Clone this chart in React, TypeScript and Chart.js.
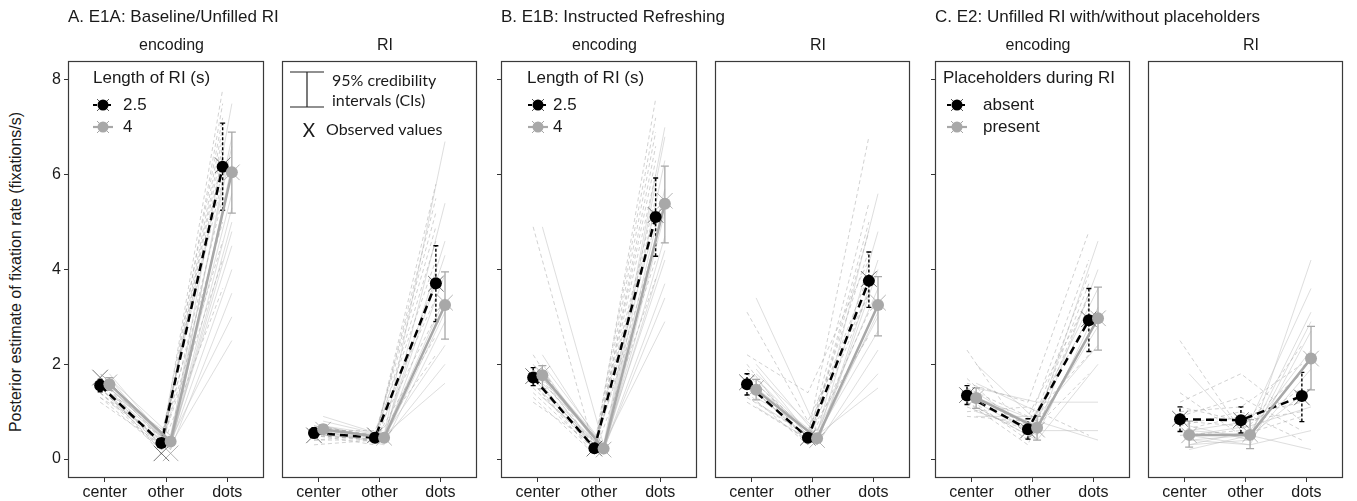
import React, { useEffect, useRef } from "react";
import { Chart, registerables } from "chart.js";
Chart.register(...registerables);

const CATEGORIES = ["center", "other", "dots"];
const Y_TICKS = [0, 2, 4, 6, 8];
const Y_TITLE = "Posterior estimate of fixation rate (fixations/s)";
const GROUP_TITLES = ["A. E1A: Baseline/Unfilled RI", "B. E1B: Instructed Refreshing", "C. E2: Unfilled RI with/without placeholders"];
const STRIPS = ["encoding", "RI", "encoding", "RI", "encoding", "RI"];
const LEGEND_E1 = ["2.5", "4"];
const LEGEND_E2 = ["absent", "present"];

// ---------- A. E1A encoding ----------
const A_ENC_MEAN_1 = [1.55, 0.34, 6.17];
const A_ENC_LO_1 = [1.42, 0.27, 5.25];
const A_ENC_HI_1 = [1.68, 0.42, 7.09];
const A_ENC_OBS_1 = [1.72, 0.12, 6.2];
const A_ENC_MEAN_2 = [1.58, 0.37, 6.05];
const A_ENC_LO_2 = [1.45, 0.3, 5.19];
const A_ENC_HI_2 = [1.72, 0.45, 6.9];
const A_ENC_OBS_2 = [1.62, 0.12, 6.05];
const A_ENC_SUBJ_1 = [[1.6, 0.3, 7.8], [1.5, 0.4, 7.2], [1.4, 0.2, 6.8], [1.7, 0.3, 6.4], [1.3, 0.5, 5.9], [1.5, 0.2, 5.5], [1.8, 0.4, 5.0], [1.2, 0.3, 4.6], [1.6, 0.1, 7.5], [1.4, 0.4, 6.1], [1.5, 0.3, 4.2], [1.3, 0.2, 3.6], [1.7, 0.2, 7.0], [1.4, 0.3, 6.6]];
const A_ENC_SUBJ_2 = [[1.6, 0.4, 7.5], [1.5, 0.3, 6.8], [1.7, 0.2, 6.2], [1.4, 0.5, 5.6], [1.6, 0.3, 5.0], [1.5, 0.4, 4.5], [1.8, 0.3, 4.0], [1.3, 0.2, 3.5], [1.5, 0.4, 3.0], [1.6, 0.3, 2.5], [1.4, 0.3, 5.3], [1.7, 0.5, 6.6], [1.5, 0.3, 4.8]];

// ---------- A. E1A RI ----------
const A_RI_MEAN_1 = [0.55, 0.45, 3.71];
const A_RI_LO_1 = [0.45, 0.4, 2.9];
const A_RI_HI_1 = [0.66, 0.51, 4.5];
const A_RI_OBS_1 = [0.5, 0.5, 3.7];
const A_RI_MEAN_2 = [0.63, 0.45, 3.25];
const A_RI_LO_2 = [0.55, 0.4, 2.53];
const A_RI_HI_2 = [0.72, 0.5, 3.95];
const A_RI_OBS_2 = [0.62, 0.45, 3.3];
const A_RI_SUBJ_1 = [[0.5, 0.4, 5.8], [0.6, 0.5, 5.2], [0.4, 0.4, 4.6], [0.7, 0.5, 4.2], [0.5, 0.3, 3.8], [0.6, 0.6, 3.4], [0.4, 0.5, 3.0], [0.5, 0.4, 2.6], [0.6, 0.4, 2.2], [0.7, 0.5, 4.9], [0.3, 0.4, 5.5]];
const A_RI_SUBJ_2 = [[0.6, 0.5, 6.7], [0.7, 0.4, 5.4], [0.5, 0.5, 4.6], [0.6, 0.4, 3.9], [0.8, 0.5, 3.4], [0.6, 0.3, 2.9], [0.7, 0.5, 2.4], [0.5, 0.4, 2.0], [0.6, 0.5, 1.6], [0.7, 0.4, 3.1], [0.9, 0.5, 4.3]];

// ---------- B. E1B encoding ----------
const B_ENC_MEAN_1 = [1.72, 0.23, 5.11];
const B_ENC_LO_1 = [1.55, 0.18, 4.28];
const B_ENC_HI_1 = [1.93, 0.29, 5.93];
const B_ENC_OBS_1 = [1.75, 0.22, 5.15];
const B_ENC_MEAN_2 = [1.77, 0.22, 5.39];
const B_ENC_LO_2 = [1.48, 0.17, 4.56];
const B_ENC_HI_2 = [1.97, 0.28, 6.18];
const B_ENC_OBS_2 = [1.8, 0.2, 5.45];
const B_ENC_SUBJ_1 = [[4.9, 0.2, 7.6], [1.9, 0.3, 7.2], [1.6, 0.1, 6.6], [1.8, 0.2, 6.0], [1.5, 0.3, 5.5], [2.0, 0.2, 5.0], [1.4, 0.2, 4.6], [1.7, 0.3, 4.2], [1.3, 0.1, 3.8], [1.6, 0.2, 6.9], [1.2, 0.3, 5.3], [2.2, 0.2, 6.3]];
const B_ENC_SUBJ_2 = [[4.9, 0.3, 7.0], [2.2, 0.2, 6.8], [1.8, 0.2, 6.3], [1.6, 0.3, 5.7], [1.9, 0.1, 5.2], [1.5, 0.2, 4.7], [2.0, 0.3, 4.2], [1.7, 0.2, 3.7], [1.4, 0.2, 3.4], [1.8, 0.3, 2.9], [1.3, 0.2, 4.4]];

// ---------- B. E1B RI ----------
const B_RI_MEAN_1 = [1.58, 0.45, 3.76];
const B_RI_LO_1 = [1.35, 0.37, 3.2];
const B_RI_HI_1 = [1.8, 0.55, 4.37];
const B_RI_OBS_1 = [1.62, 0.45, 3.8];
const B_RI_MEAN_2 = [1.46, 0.44, 3.25];
const B_RI_LO_2 = [1.25, 0.36, 2.6];
const B_RI_HI_2 = [1.68, 0.52, 3.85];
const B_RI_OBS_2 = [1.5, 0.4, 3.3];
const B_RI_SUBJ_1 = [[3.1, 0.8, 3.5], [2.2, 1.4, 4.2], [1.8, 0.5, 6.8], [1.6, 0.4, 5.4], [1.4, 0.3, 4.8], [1.9, 0.5, 4.4], [1.5, 0.6, 3.9], [1.2, 0.4, 3.5], [1.7, 0.3, 3.1], [1.3, 0.5, 2.6], [2.0, 0.3, 5.0]];
const B_RI_SUBJ_2 = [[3.4, 0.6, 3.0], [2.0, 0.5, 5.6], [1.6, 0.4, 4.8], [1.4, 0.3, 4.2], [1.8, 0.6, 3.6], [1.2, 0.4, 3.1], [1.5, 0.5, 2.7], [1.1, 0.3, 2.3], [1.7, 0.4, 1.8], [1.3, 0.5, 1.5], [1.9, 0.3, 4.0]];

// ---------- C. E2 encoding ----------
const C_ENC_MEAN_1 = [1.34, 0.63, 2.93];
const C_ENC_LO_1 = [1.15, 0.42, 2.27];
const C_ENC_HI_1 = [1.55, 0.85, 3.6];
const C_ENC_OBS_1 = [1.35, 0.6, 2.95];
const C_ENC_MEAN_2 = [1.29, 0.66, 2.97];
const C_ENC_LO_2 = [1.07, 0.4, 2.3];
const C_ENC_HI_2 = [1.5, 0.9, 3.63];
const C_ENC_OBS_2 = [1.3, 0.62, 2.97];
const C_ENC_SUBJ_1 = [[2.3, 0.4, 3.7], [1.6, 1.2, 4.8], [1.4, 0.7, 4.2], [1.2, 0.5, 3.9], [1.5, 0.9, 3.4], [1.1, 0.6, 3.0], [1.3, 0.4, 2.6], [0.9, 0.8, 2.2], [1.7, 0.5, 1.8], [1.0, 1.1, 0.5], [1.2, 0.3, 3.5]];
const C_ENC_SUBJ_2 = [[2.0, 0.8, 4.6], [1.4, 0.6, 4.0], [1.6, 1.0, 3.6], [1.2, 0.5, 3.2], [1.3, 0.7, 2.8], [0.9, 0.9, 2.4], [1.1, 0.4, 2.0], [1.5, 1.2, 1.2], [1.0, 0.6, 0.6], [1.3, 0.8, 0.4]];

// ---------- C. E2 RI ----------
const C_RI_MEAN_1 = [0.84, 0.82, 1.33];
const C_RI_LO_1 = [0.58, 0.55, 0.79];
const C_RI_HI_1 = [1.1, 1.1, 1.83];
const C_RI_OBS_1 = [0.85, 0.82, 1.3];
const C_RI_MEAN_2 = [0.51, 0.51, 2.12];
const C_RI_LO_2 = [0.25, 0.22, 1.46];
const C_RI_HI_2 = [0.8, 0.83, 2.8];
const C_RI_OBS_2 = [0.5, 0.52, 2.12];
const C_RI_SUBJ_1 = [[2.5, 0.6, 1.5], [1.2, 1.8, 0.8], [1.0, 1.1, 2.0], [0.8, 0.7, 1.8], [0.6, 0.9, 1.2], [1.4, 0.5, 0.9], [0.9, 1.3, 0.6], [0.5, 0.6, 2.4], [1.1, 0.8, 1.0], [0.7, 1.0, 0.4]];
const C_RI_SUBJ_2 = [[1.8, 0.4, 4.2], [0.6, 0.8, 3.6], [0.4, 0.5, 3.1], [0.5, 0.3, 2.7], [0.3, 0.6, 2.3], [0.7, 0.4, 1.9], [0.2, 0.5, 1.5], [0.5, 0.7, 1.1], [0.4, 0.3, 0.6], [0.6, 0.5, 0.2], [0.3, 0.4, 2.9]];

// ---------- layout / style ----------
const W = 1357;
const H = 501;
const PANEL_TOP = 61;
const PANEL_BOTTOM = 478;
const AXIS_W = 40;
const DODGE = 0.075;
const GRAY = "#a8a8a8";
const FONT = '"Liberation Sans", Arial, sans-serif';
const FONT2 = 'Lato, "Open Sans", sans-serif';

type Legend =
  | { kind: "group"; title: string; items: string[]; tx: number; sx: number; lx: number }
  | { kind: "ci"; tx: number }
  | null;

interface PanelDef {
  left: number;
  width: number;
  yLabels: boolean;
  yTicks: boolean;
  m1: number[]; lo1: number[]; hi1: number[]; o1: number[]; s1: number[][];
  m2: number[]; lo2: number[]; hi2: number[]; o2: number[]; s2: number[][];
  legend: Legend;
}

const PANELS: PanelDef[] = [
  { left: 68, width: 207, yLabels: true, yTicks: true, m1: A_ENC_MEAN_1, lo1: A_ENC_LO_1, hi1: A_ENC_HI_1, o1: A_ENC_OBS_1, s1: A_ENC_SUBJ_1, m2: A_ENC_MEAN_2, lo2: A_ENC_LO_2, hi2: A_ENC_HI_2, o2: A_ENC_OBS_2, s2: A_ENC_SUBJ_2, legend: { kind: "group", title: "Length of RI (s)", items: LEGEND_E1, tx: 25, sx: 35, lx: 55 } },
  { left: 282, width: 206, yLabels: false, yTicks: false, m1: A_RI_MEAN_1, lo1: A_RI_LO_1, hi1: A_RI_HI_1, o1: A_RI_OBS_1, s1: A_RI_SUBJ_1, m2: A_RI_MEAN_2, lo2: A_RI_LO_2, hi2: A_RI_HI_2, o2: A_RI_OBS_2, s2: A_RI_SUBJ_2, legend: { kind: "ci", tx: 0 } },
  { left: 501, width: 207, yLabels: false, yTicks: true, m1: B_ENC_MEAN_1, lo1: B_ENC_LO_1, hi1: B_ENC_HI_1, o1: B_ENC_OBS_1, s1: B_ENC_SUBJ_1, m2: B_ENC_MEAN_2, lo2: B_ENC_LO_2, hi2: B_ENC_HI_2, o2: B_ENC_OBS_2, s2: B_ENC_SUBJ_2, legend: { kind: "group", title: "Length of RI (s)", items: LEGEND_E1, tx: 26, sx: 37, lx: 52 } },
  { left: 715, width: 206, yLabels: false, yTicks: false, m1: B_RI_MEAN_1, lo1: B_RI_LO_1, hi1: B_RI_HI_1, o1: B_RI_OBS_1, s1: B_RI_SUBJ_1, m2: B_RI_MEAN_2, lo2: B_RI_LO_2, hi2: B_RI_HI_2, o2: B_RI_OBS_2, s2: B_RI_SUBJ_2, legend: null },
  { left: 935, width: 206, yLabels: false, yTicks: true, m1: C_ENC_MEAN_1, lo1: C_ENC_LO_1, hi1: C_ENC_HI_1, o1: C_ENC_OBS_1, s1: C_ENC_SUBJ_1, m2: C_ENC_MEAN_2, lo2: C_ENC_LO_2, hi2: C_ENC_HI_2, o2: C_ENC_OBS_2, s2: C_ENC_SUBJ_2, legend: { kind: "group", title: "Placeholders during RI", items: LEGEND_E2, tx: 8, sx: 22, lx: 48 } },
  { left: 1148, width: 206, yLabels: false, yTicks: false, m1: C_RI_MEAN_1, lo1: C_RI_LO_1, hi1: C_RI_HI_1, o1: C_RI_OBS_1, s1: C_RI_SUBJ_1, m2: C_RI_MEAN_2, lo2: C_RI_LO_2, hi2: C_RI_HI_2, o2: C_RI_OBS_2, s2: C_RI_SUBJ_2, legend: null },
];

function drawKey(ctx: CanvasRenderingContext2D, x: number, y: number, dark: boolean) {
  ctx.save();
  ctx.lineWidth = 2.2;
  ctx.strokeStyle = dark ? "#000" : GRAY;
  ctx.setLineDash(dark ? [4, 3] : []);
  ctx.beginPath();
  ctx.moveTo(x - 10, y);
  ctx.lineTo(x + 10, y);
  ctx.stroke();
  ctx.setLineDash([]);
  ctx.lineWidth = 1;
  ctx.strokeStyle = dark ? "rgba(60,60,60,0.85)" : "rgba(150,150,150,0.85)";
  const r = 6;
  ctx.beginPath();
  ctx.moveTo(x - r, y - r); ctx.lineTo(x + r, y + r);
  ctx.moveTo(x - r, y + r); ctx.lineTo(x + r, y - r);
  ctx.stroke();
  ctx.fillStyle = dark ? "#000" : GRAY;
  ctx.beginPath();
  ctx.arc(x, y, 5.5, 0, Math.PI * 2);
  ctx.fill();
  ctx.restore();
}

function Panel({ p }: { p: PanelDef }) {
  const ref = useRef<HTMLCanvasElement>(null);
  useEffect(() => {
    const canvas = ref.current!;
    const pt = (arr: number[], off: number) => arr.map((y, i) => ({ x: i + 1 + off, y }));
    const datasets: any[] = [];
    p.s1.forEach((s) =>
      datasets.push({ data: pt(s, -DODGE), borderColor: "rgba(165,165,165,0.5)", borderWidth: 1, borderDash: [4, 3], pointRadius: 0, order: 5 })
    );
    p.s2.forEach((s) =>
      datasets.push({ data: pt(s, DODGE), borderColor: "rgba(190,190,190,0.5)", borderWidth: 1, pointRadius: 0, order: 5 })
    );
    datasets.push({ data: [], errAnchor: true, order: 3, pointRadius: 0 });
    datasets.push({ data: pt(p.m2, DODGE), borderColor: GRAY, borderWidth: 2.5, pointRadius: 0, order: 2 });
    datasets.push({ data: pt(p.m1, -DODGE), borderColor: "#000", borderWidth: 2.5, borderDash: [8, 5], pointRadius: 0, order: 2 });
    datasets.push({ data: pt(p.o2, DODGE), showLine: false, pointStyle: "crossRot", pointRadius: 11, borderColor: "rgba(160,160,160,0.8)", pointBorderWidth: 1, order: 1 });
    datasets.push({ data: pt(p.o1, -DODGE), showLine: false, pointStyle: "crossRot", pointRadius: 11, borderColor: "rgba(70,70,70,0.75)", pointBorderWidth: 1, order: 1 });
    datasets.push({ data: pt(p.m2, DODGE), showLine: false, pointRadius: 6, pointBackgroundColor: GRAY, pointBorderWidth: 0, borderColor: GRAY, order: 0 });
    datasets.push({ data: pt(p.m1, -DODGE), showLine: false, pointRadius: 6, pointBackgroundColor: "#000", pointBorderWidth: 0, borderColor: "#000", order: 0 });

    const errPlugin = {
      id: "errbars",
      afterDatasetDraw(chart: any, args: any) {
        if (!chart.data.datasets[args.index].errAnchor) return;
        const ctx = chart.ctx as CanvasRenderingContext2D;
        const xs = chart.scales.x;
        const ys = chart.scales.y;
        const series = [
          { lo: p.lo2, hi: p.hi2, off: DODGE, color: GRAY, dash: [] as number[], cap: 4, w: 1.3 },
          { lo: p.lo1, hi: p.hi1, off: -DODGE, color: "#000", dash: [3, 2], cap: 2.5, w: 1.4 },
        ];
        ctx.save();
        series.forEach((s) => {
          ctx.strokeStyle = s.color;
          ctx.lineWidth = s.w;
          s.lo.forEach((lo, i) => {
            const x = xs.getPixelForValue(i + 1 + s.off);
            const y0 = ys.getPixelForValue(lo);
            const y1 = ys.getPixelForValue(s.hi[i]);
            ctx.setLineDash(s.dash);
            ctx.beginPath();
            ctx.moveTo(x, y0);
            ctx.lineTo(x, y1);
            ctx.stroke();
            ctx.setLineDash([]);
            ctx.beginPath();
            ctx.moveTo(x - s.cap, y0); ctx.lineTo(x + s.cap, y0);
            ctx.moveTo(x - s.cap, y1); ctx.lineTo(x + s.cap, y1);
            ctx.stroke();
          });
        });
        ctx.restore();
      },
    };

    const framePlugin = {
      id: "frame",
      afterDraw(chart: any) {
        const ctx = chart.ctx as CanvasRenderingContext2D;
        const a = chart.chartArea;
        ctx.save();
        ctx.strokeStyle = "#3a3a3a";
        ctx.lineWidth = 1.2;
        ctx.strokeRect(a.left + 0.5, a.top + 0.5, a.right - a.left - 1, a.bottom - a.top - 1);
        const lg = p.legend;
        if (lg && lg.kind === "group") {
          ctx.fillStyle = "#1a1a1a";
          ctx.textBaseline = "middle";
          ctx.font = `17px ${FONT}`;
          ctx.fillText(lg.title, a.left + lg.tx, 78);
          [105, 127].forEach((yy, i) => {
            drawKey(ctx, a.left + lg.sx, yy, i === 0);
            ctx.fillStyle = "#1a1a1a";
            ctx.font = `17px ${FONT}`;
            ctx.fillText(lg.items[i], a.left + lg.lx, yy);
          });
        } else if (lg && lg.kind === "ci") {
          const L = a.left;
          ctx.strokeStyle = "#222";
          ctx.lineWidth = 1.2;
          ctx.beginPath();
          ctx.moveTo(L + 8, 72); ctx.lineTo(L + 42, 72);
          ctx.moveTo(L + 8, 107); ctx.lineTo(L + 42, 107);
          ctx.moveTo(L + 25, 72); ctx.lineTo(L + 25, 107);
          ctx.stroke();
          ctx.fillStyle = "#1a1a1a";
          ctx.textBaseline = "middle";
          ctx.font = `16px ${FONT2}`;
          ctx.fillText("95% credibility", L + 50, 81);
          ctx.fillText("intervals (CIs)", L + 50, 101);
          ctx.textAlign = "center";
          ctx.font = `19px ${FONT2}`;
          ctx.fillText("X", L + 27, 131);
          ctx.textAlign = "left";
          ctx.font = `16px ${FONT2}`;
          ctx.fillText("Observed values", L + 44, 130);
        }
        ctx.restore();
      },
    };

    const chart = new Chart(canvas, {
      type: "line",
      data: { datasets },
      options: {
        animation: false,
        responsive: false,
        devicePixelRatio: 1,
        events: [],
        layout: { padding: { top: PANEL_TOP, right: 1, left: 0, bottom: 0 } },
        plugins: { legend: { display: false }, tooltip: { enabled: false } },
        scales: {
          x: {
            type: "linear",
            min: 0.4,
            max: 3.6,
            afterBuildTicks: (s: any) => {
              s.ticks = [1, 2, 3].map((v) => ({ value: v }));
            },
            afterFit: (s: any) => {
              s.height = H - PANEL_BOTTOM;
            },
            grid: { drawOnChartArea: false, drawTicks: true, tickLength: 4, color: "#333" },
            border: { display: false },
            ticks: {
              autoSkip: false,
              maxRotation: 0,
              padding: 1,
              color: "#1a1a1a",
              font: { family: FONT, size: 16 },
              callback: (v: any) => CATEGORIES[Math.round(Number(v)) - 1],
            },
          },
          y: {
            type: "linear",
            min: -0.4,
            max: 8.4,
            afterBuildTicks: (s: any) => {
              s.ticks = Y_TICKS.map((v) => ({ value: v }));
            },
            afterFit: (s: any) => {
              s.width = AXIS_W;
            },
            grid: { drawOnChartArea: false, drawTicks: p.yTicks, tickLength: 4, color: "#333" },
            border: { display: false },
            ticks: {
              display: p.yLabels,
              padding: 3,
              color: "#1a1a1a",
              font: { family: FONT, size: 16 },
            },
          },
        },
      } as any,
      plugins: [errPlugin, framePlugin] as any,
    });
    return () => chart.destroy();
  }, [p]);

  const cw = p.width + AXIS_W + 1;
  return (
    <canvas
      ref={ref}
      width={cw}
      height={H}
      style={{ position: "absolute", left: p.left - AXIS_W, top: 0, width: cw, height: H }}
    />
  );
}

export default function App() {
  const groupLefts = [PANELS[0].left, PANELS[2].left, PANELS[4].left];
  return (
    <div style={{ position: "fixed", left: 0, top: 0, width: W, height: H, background: "#fff", overflow: "hidden", fontFamily: FONT, color: "#1a1a1a" }}>
      {PANELS.map((p, i) => (
        <Panel key={i} p={p} />
      ))}
      {GROUP_TITLES.map((t, i) => (
        <div key={"g" + i} style={{ position: "absolute", left: groupLefts[i], top: 6, fontSize: 17, whiteSpace: "nowrap", lineHeight: "22px" }}>
          {t}
        </div>
      ))}
      {PANELS.map((p, i) => (
        <div key={"s" + i} style={{ position: "absolute", left: p.left, width: p.width, top: 35, textAlign: "center", fontSize: 16, lineHeight: "20px" }}>
          {STRIPS[i]}
        </div>
      ))}
      <div style={{ position: "absolute", left: 16 - 220, top: 272 - 10, width: 440, height: 20, textAlign: "center", transform: "rotate(-90deg)", transformOrigin: "50% 50%", whiteSpace: "nowrap", fontSize: 16, lineHeight: "20px" }}>
        {Y_TITLE}
      </div>
    </div>
  );
}
